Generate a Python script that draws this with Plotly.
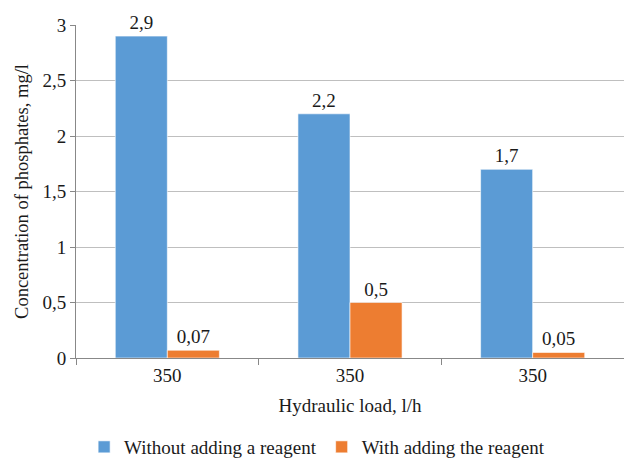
import plotly.graph_objects as go

loads = ["350", "350", "350"]
groups = [0, 1, 2]
without_reagent = [2.9, 2.2, 1.7]
with_reagent = [0.07, 0.5, 0.05]
series_names = ["Without adding a reagent", "With adding the reagent"]
y_ticks = [0, 0.5, 1, 1.5, 2, 2.5, 3]

def fmt(v):
    return f"{v:g}".replace(".", ",")

FAM = "Times New Roman, Liberation Serif, serif"
F19 = dict(family=FAM, size=19, color="#1a1a1a")
F18 = dict(family=FAM, size=18.5, color="#1a1a1a")

fig = go.Figure()
fig.add_trace(go.Bar(
    x=groups, y=without_reagent, name=series_names[0],
    marker=dict(color="#5b9bd5", line=dict(color="white", width=0.6)),
    text=[fmt(v) for v in without_reagent], textposition="outside",
    textfont=F19, cliponaxis=False,
))
fig.add_trace(go.Bar(
    x=groups, y=with_reagent, name=series_names[1],
    marker=dict(color="#ed7d31", line=dict(color="white", width=0.6)),
    text=[fmt(v) for v in with_reagent], textposition="outside",
    textfont=F19, cliponaxis=False,
))

fig.update_layout(
    width=624, height=458,
    margin=dict(l=76, r=0, t=25, b=100),
    paper_bgcolor="white", plot_bgcolor="white",
    font=F19,
    barmode="group", bargap=0.43, bargroupgap=0,
    uniformtext=dict(minsize=19, mode="show"),
    showlegend=True,
    legend=dict(orientation="h", x=0.44, xanchor="center",
                yref="container", y=0.024, yanchor="middle",
                font=F19, itemwidth=30, tracegroupgap=0),
    xaxis=dict(
        type="category", tickmode="array", tickvals=groups, ticktext=loads,
        tickson="boundaries", ticks="outside", ticklen=6, tickcolor="#888",
        showline=True, linecolor="#888", linewidth=1, showgrid=False,
        tickfont=F19, automargin=False,
        title=dict(text="Hydraulic load, l/h", standoff=13, font=F19),
        range=[-0.5, 2.5],
    ),
    yaxis=dict(
        range=[0, 3], tickmode="array", tickvals=y_ticks,
        ticktext=[fmt(v) for v in y_ticks],
        ticks="outside", ticklen=5, tickcolor="#888",
        showline=True, linecolor="#888", linewidth=1,
        showgrid=True, gridcolor="#bfbfbf", gridwidth=1, zeroline=False,
        tickfont=F19, automargin=False,
        title=dict(text="Concentration of phosphates, mg/l", standoff=8, font=F18),
    ),
)

fig.write_html("out.html")
